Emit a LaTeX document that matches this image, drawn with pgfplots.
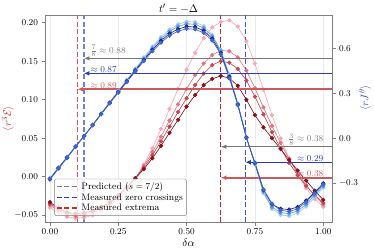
\documentclass[border=0pt]{standalone}
\usepackage{pgfplots}
\pgfplotsset{compat=1.18}
\usepackage{pgfplotstable}
\usetikzlibrary{arrows.meta}

\definecolor{rA}{RGB}{247,168,184}
\definecolor{rB}{RGB}{222,118,128}
\definecolor{rC}{RGB}{196,72,82}
\definecolor{rD}{RGB}{139,16,24}
\definecolor{bA}{RGB}{158,206,232}
\definecolor{bB}{RGB}{100,148,225}
\definecolor{bC}{RGB}{65,100,210}
\definecolor{bD}{RGB}{25,35,135}
\definecolor{framegray}{RGB}{128,128,128}
\definecolor{anngray}{RGB}{120,120,120}
\definecolor{annblue}{RGB}{40,60,185}
\definecolor{annred}{RGB}{205,90,90}
\definecolor{labred}{RGB}{205,45,45}
\definecolor{labblue}{RGB}{55,80,205}
\definecolor{vredA}{RGB}{230,80,80}
\definecolor{vblueA}{RGB}{110,128,230}
\definecolor{vredB}{RGB}{185,40,40}
\definecolor{vblueB}{RGB}{60,85,220}
\definecolor{legblue}{RGB}{40,60,210}
\definecolor{legred}{RGB}{215,40,40}

\tikzset{vdash/.style={line width=1.4pt, dash pattern=on 5pt off 2.5pt}}

\pgfplotstableread{
x b1 b2 b3 b4
0 -0.278 -0.275 -0.270 -0.268
0.03125 -0.205 -0.202 -0.198 -0.196
0.0625 -0.133 -0.131 -0.128 -0.126
0.09375 -0.058 -0.057 -0.055 -0.054
0.125 0.015 0.015 0.015 0.015
0.15625 0.090 0.089 0.088 0.087
0.1875 0.166 0.164 0.162 0.160
0.21875 0.242 0.239 0.236 0.233
0.25 0.316 0.312 0.308 0.304
0.28125 0.390 0.385 0.380 0.375
0.3125 0.465 0.458 0.452 0.446
0.34375 0.540 0.531 0.523 0.515
0.375 0.612 0.601 0.590 0.580
0.40625 0.675 0.663 0.650 0.638
0.4375 0.725 0.712 0.698 0.684
0.46875 0.760 0.746 0.728 0.714
0.5 0.778 0.763 0.745 0.730
0.53125 0.775 0.760 0.742 0.727
0.5625 0.748 0.735 0.718 0.703
0.59375 0.690 0.680 0.665 0.652
0.625 0.590 0.582 0.570 0.560
0.65625 0.425 0.418 0.410 0.402
0.6875 0.232 0.228 0.225 0.220
0.71875 0.008 0.006 0.005 0.003
0.75 -0.175 -0.170 -0.165 -0.162
0.78125 -0.365 -0.357 -0.345 -0.340
0.8125 -0.470 -0.458 -0.440 -0.435
0.84375 -0.510 -0.495 -0.470 -0.480
0.875 -0.518 -0.502 -0.475 -0.488
0.90625 -0.500 -0.485 -0.458 -0.470
0.9375 -0.455 -0.440 -0.415 -0.425
0.96875 -0.395 -0.380 -0.360 -0.368
1.0 -0.330 -0.318 -0.300 -0.308
}\bluetab

\pgfplotstableread{
x r1 r2 r3 r4
0 -0.040 -0.037 -0.035 -0.033
0.03125 -0.047 -0.044 -0.042 -0.041
0.0625 -0.052 -0.049 -0.047 -0.046
0.09375 -0.054 -0.051 -0.049 -0.048
0.125 -0.053 -0.050 -0.048 -0.047
0.15625 -0.050 -0.047 -0.045 -0.044
0.1875 -0.045 -0.042 -0.040 -0.039
0.21875 -0.038 -0.035 -0.034 -0.033
0.25 -0.028 -0.026 -0.025 -0.024
0.28125 -0.016 -0.015 -0.014 -0.013
0.3125 -0.002 -0.002 -0.002 -0.002
0.34375 0.016 0.014 0.012 0.010
0.375 0.037 0.032 0.028 0.024
0.40625 0.062 0.052 0.046 0.040
0.4375 0.088 0.073 0.065 0.057
0.46875 0.114 0.094 0.084 0.074
0.5 0.139 0.114 0.102 0.091
0.53125 0.161 0.132 0.119 0.106
0.5625 0.180 0.147 0.134 0.119
0.59375 0.194 0.158 0.145 0.127
0.625 0.201 0.164 0.150 0.131
0.65625 0.203 0.163 0.148 0.128
0.6875 0.195 0.155 0.140 0.118
0.71875 0.176 0.138 0.125 0.100
0.75 0.147 0.115 0.104 0.080
0.78125 0.113 0.090 0.081 0.064
0.8125 0.080 0.066 0.058 0.050
0.84375 0.050 0.044 0.037 0.036
0.875 0.024 0.023 0.018 0.022
0.90625 0.003 0.005 0.002 0.008
0.9375 -0.015 -0.011 -0.012 -0.005
0.96875 -0.029 -0.025 -0.024 -0.018
1.0 -0.039 -0.036 -0.034 -0.030
}\redtab

\begin{document}
\begin{tikzpicture}
\path[use as bounding box] (-45pt,-27pt) rectangle (329pt,222pt);
\pgfplotsset{
  common/.style={
    scale only axis, width=287pt, height=207pt,
    at={(0,0)}, anchor=south west,
    xmin=-0.018, xmax=1.032,
    axis line style={framegray, line width=0.6pt},
    tick style={framegray, line width=0.6pt},
    tick align=outside,
    major tick length=3.5pt,
    ticklabel style={font=\fontsize{9.2}{11}\selectfont},
    label style={font=\fontsize{11}{13}\selectfont},
  },
  dplot/.style={line width=0.65pt, mark=*, mark size=1.8pt, forget plot},
}
\begin{axis}[common,
  ymin=-0.0588, ymax=0.21,
  xtick={0,0.25,0.5,0.75,1}, xtick pos=bottom,
  ytick={-0.05,0,0.05,0.1,0.15,0.2}, ytick pos=left,
  xticklabel style={/pgf/number format/.cd, fixed, fixed zerofill, precision=2},
  yticklabel style={/pgf/number format/.cd, fixed, fixed zerofill, precision=2},
  xmajorgrids, major grid style={black!8, line width=0.4pt},
  xlabel={$\delta\alpha$},
  xlabel style={at={(axis description cs:0.5,0)}, anchor=base, yshift=-24.5pt},
  ylabel={$\langle r^3\mathcal{E}\rangle$},
  ylabel style={color=labred, at={(axis description cs:-0.129,0.5)}, anchor=center},
  every axis title shift=0pt,
  title={$t' = -\Delta$},
  title style={at={(axis description cs:0.5,1)}, anchor=base, yshift=2.5pt, xshift=-10pt, font=\fontsize{11}{13}\selectfont},
]
\addplot[rA, dplot] table[x=x, y=r1] {\redtab};
\addplot[rB, dplot] table[x=x, y=r2] {\redtab};
\addplot[rC, dplot] table[x=x, y=r3] {\redtab};
\addplot[rD, dplot] table[x=x, y=r4] {\redtab};
\draw[draw=vredA, vdash] (axis cs:0.101,-0.0588) -- (axis cs:0.101,0.21);
\draw[draw=vblueA, vdash] (axis cs:0.124,-0.0588) -- (axis cs:0.124,0.21);
\draw[draw=vredB, vdash] (axis cs:0.625,-0.0588) -- (axis cs:0.625,0.21);
\draw[draw=vblueB, vdash] (axis cs:0.715,-0.0588) -- (axis cs:0.715,0.21);
\end{axis}

\begin{axis}[common,
  ymin=-0.558, ymax=0.822,
  axis x line=none,
  axis y line*=right,
  ytick={-0.3,0,0.3,0.6},
  yticklabel style={/pgf/number format/.cd, fixed, fixed zerofill, precision=1},
  ylabel={$\langle rJ^{\theta}\rangle$},
  ylabel style={color=labblue, at={(axis description cs:1.115,0.6)}, anchor=center},
  legend style={at={(0.032,0.03)}, anchor=south west, draw=framegray, fill=white, fill opacity=0.8, text opacity=1,
    rounded corners=1.5pt, font=\fontsize{9.4}{10}\selectfont, inner sep=1.5pt, row sep=-1.5pt},
  legend cell align=left,
  legend image code/.code={\draw[#1] (0cm,0cm) -- (0.78cm,0cm);},
]
\draw[draw=anngray, line width=1.2pt, -{Latex[length=5.5pt,width=4.5pt]}] (axis cs:1.032,0.533) -- (axis cs:0.124,0.533);
\draw[draw=annblue, fill=annblue, line width=1.5pt, -{Latex[length=5.5pt,width=4.8pt]}] (axis cs:1.032,0.433) -- (axis cs:0.124,0.433);
\draw[draw=annred, fill=annred, line width=1.6pt, -{Latex[length=5.5pt,width=4.8pt]}] (axis cs:1.032,0.327) -- (axis cs:0.101,0.327);
\draw[draw=anngray, line width=1.2pt, -{Latex[length=5.5pt,width=4.5pt]}] (axis cs:1.032,-0.056) -- (axis cs:0.625,-0.056);
\draw[draw=annblue, fill=annblue, line width=1.5pt, -{Latex[length=5.5pt,width=4.8pt]}] (axis cs:1.032,-0.160) -- (axis cs:0.715,-0.160);
\draw[draw=annred, fill=annred, line width=1.6pt, -{Latex[length=5.5pt,width=4.8pt]}] (axis cs:1.032,-0.263) -- (axis cs:0.625,-0.263);

\addplot[bA, dplot] table[x=x, y=b1] {\bluetab};
\addplot[bB, dplot] table[x=x, y=b2] {\bluetab};
\addplot[bD, dplot] table[x=x, y=b3] {\bluetab};
\addplot[bC, dplot] table[x=x, y=b4] {\bluetab};

\node[text=framegray, anchor=south west, inner sep=0.5pt, yshift=1pt, font=\fontsize{9.4}{11}\selectfont] at (axis cs:0.146,0.533) {$\frac{7}{8}\approx 0.88$};
\node[text=annblue, anchor=south west, inner sep=0.5pt, yshift=0.5pt, font=\fontsize{9.4}{11}\selectfont] at (axis cs:0.146,0.433) {$\approx 0.87$};
\node[text=annred, anchor=south west, inner sep=0.5pt, yshift=0.5pt, font=\fontsize{9.4}{11}\selectfont] at (axis cs:0.146,0.327) {$\approx 0.89$};
\node[text=framegray, anchor=south east, inner sep=0.5pt, yshift=1pt, font=\fontsize{9.4}{11}\selectfont] at (axis cs:1.003,-0.056) {$\frac{3}{8}\approx 0.38$};
\node[text=annblue, anchor=south east, inner sep=0.5pt, yshift=0.5pt, font=\fontsize{9.4}{11}\selectfont] at (axis cs:1.003,-0.160) {$\approx 0.29$};
\node[text=annred, anchor=south east, inner sep=0.5pt, yshift=0.5pt, font=\fontsize{9.4}{11}\selectfont] at (axis cs:1.003,-0.263) {$\approx 0.38$};

\addlegendimage{draw=framegray, vdash}
\addlegendentry{Predicted ($s = 7/2$)}
\addlegendimage{draw=legblue, vdash}
\addlegendentry{Measured zero crossings}
\addlegendimage{draw=legred, vdash}
\addlegendentry{Measured extrema}
\end{axis}
\end{tikzpicture}
\end{document}
